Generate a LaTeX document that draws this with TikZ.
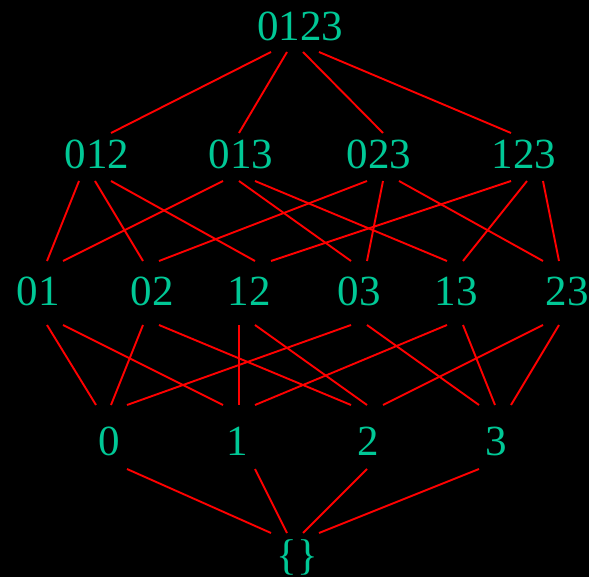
\documentclass[tikz,border=0pt]{standalone}
\usepackage{fontspec}
\setmainfont{Liberation Serif}
\usepackage{xcolor}
\usepackage{tikz}
\usetikzlibrary{calc}
\definecolor{subgreen}{RGB}{0,200,150}
\tikzset{
  elem/.style={text=subgreen, inner sep=0pt, font=\fontsize{43}{50}\selectfont},
  cover/.style={red, line width=1.9pt}
}

\begin{document}
\begin{tikzpicture}[x=1pt,y=-1pt]
  \useasboundingbox (0,0) rectangle (589,577);
  \fill[black] (0,0) rectangle (589,577);
  \node[elem] (n0123) at (300,26) {0123};
  \node[elem] (n012) at (97,154) {012};
  \node[elem] (n013) at (241,154) {013};
  \node[elem] (n023) at (379,154) {023};
  \node[elem] (n123) at (524,154) {123};
  \node[elem] (n01) at (38,291) {01};
  \node[elem] (n02) at (152,291) {02};
  \node[elem] (n12) at (249,291) {12};
  \node[elem] (n03) at (359,291) {03};
  \node[elem] (n13) at (456,291) {13};
  \node[elem] (n23) at (567,291) {23};
  \node[elem] (n0) at (109,441) {0};
  \node[elem] (n1) at (237,441) {1};
  \node[elem] (n2) at (368,441) {2};
  \node[elem] (n3) at (496,441) {3};
  \node[elem] (nempty) at (297,557) {\{\}};
  \draw[cover] ($(n0123)+(-29,26)$) -- ($(n012)+(14,-21)$);
  \draw[cover] ($(n0123)+(-13,26)$) -- ($(n013)+(-2,-21)$);
  \draw[cover] ($(n0123)+(3,26)$) -- ($(n023)+(4,-21)$);
  \draw[cover] ($(n0123)+(19,26)$) -- ($(n123)+(-13,-21)$);
  \draw[cover] ($(n012)+(-18,27)$) -- ($(n01)+(9,-30)$);
  \draw[cover] ($(n012)+(-2,27)$) -- ($(n02)+(-9,-30)$);
  \draw[cover] ($(n012)+(14,27)$) -- ($(n12)+(6,-30)$);
  \draw[cover] ($(n013)+(-18,27)$) -- ($(n01)+(25,-30)$);
  \draw[cover] ($(n013)+(-2,27)$) -- ($(n03)+(-8,-30)$);
  \draw[cover] ($(n013)+(14,27)$) -- ($(n13)+(-9,-30)$);
  \draw[cover] ($(n023)+(-12,27)$) -- ($(n02)+(7,-30)$);
  \draw[cover] ($(n023)+(4,27)$) -- ($(n03)+(8,-30)$);
  \draw[cover] ($(n023)+(20,27)$) -- ($(n23)+(-24,-30)$);
  \draw[cover] ($(n123)+(-13,27)$) -- ($(n12)+(22,-30)$);
  \draw[cover] ($(n123)+(3,27)$) -- ($(n13)+(7,-30)$);
  \draw[cover] ($(n123)+(19,27)$) -- ($(n23)+(-8,-30)$);
  \draw[cover] ($(n01)+(9,34)$) -- ($(n0)+(-13,-36)$);
  \draw[cover] ($(n01)+(25,34)$) -- ($(n1)+(-14,-36)$);
  \draw[cover] ($(n02)+(-9,34)$) -- ($(n0)+(2,-36)$);
  \draw[cover] ($(n02)+(7,34)$) -- ($(n2)+(-17,-36)$);
  \draw[cover] ($(n12)+(-10,34)$) -- ($(n1)+(2,-36)$);
  \draw[cover] ($(n12)+(6,34)$) -- ($(n2)+(-1,-36)$);
  \draw[cover] ($(n03)+(-8,34)$) -- ($(n0)+(18,-36)$);
  \draw[cover] ($(n03)+(8,34)$) -- ($(n3)+(-17,-36)$);
  \draw[cover] ($(n13)+(-9,34)$) -- ($(n1)+(18,-36)$);
  \draw[cover] ($(n13)+(7,34)$) -- ($(n3)+(-1,-36)$);
  \draw[cover] ($(n23)+(-24,34)$) -- ($(n2)+(15,-36)$);
  \draw[cover] ($(n23)+(-8,34)$) -- ($(n3)+(15,-36)$);
  \draw[cover] ($(n0)+(18,28)$) -- ($(nempty)+(-26,-24)$);
  \draw[cover] ($(n1)+(18,28)$) -- ($(nempty)+(-10,-24)$);
  \draw[cover] ($(n2)+(-1,28)$) -- ($(nempty)+(6,-24)$);
  \draw[cover] ($(n3)+(-17,28)$) -- ($(nempty)+(22,-24)$);
\end{tikzpicture}
\end{document}
